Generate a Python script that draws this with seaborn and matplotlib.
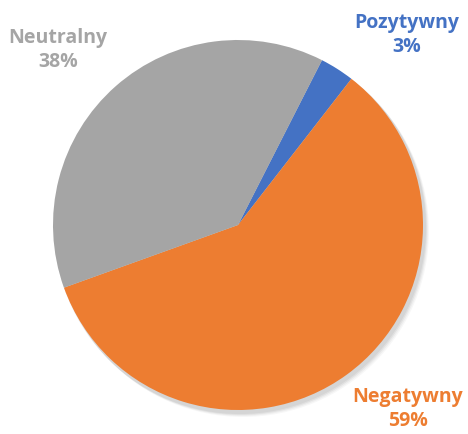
import matplotlib.pyplot as plt
import seaborn as sns

categories = ["Pozytywny", "Negatywny", "Neutralny"]
shares = [3, 59, 38]
colors = ["#4472C4", "#ED7D31", "#A5A5A5"]
text_colors = ["#4472C4", "#ED7D31", "#A5A5A5"]

sns.set_theme(style="white")
plt.rcParams['font.family'] = ['Open Sans', 'DejaVu Sans']

fig = plt.figure(figsize=(4.68, 4.35), dpi=100)
ax = fig.add_axes([0, 0, 1, 1])

cx, cy, r = 238, 435 - 226, 185

# soft shadow under the pie
for i, a in enumerate([0.05, 0.05, 0.04, 0.03]):
    shadow = plt.Circle((cx + 2 + i, cy - 3 - i), r + 1, color="black", alpha=a, lw=0, zorder=0)
    ax.add_patch(shadow)

ax.pie(shares, colors=colors, startangle=63, counterclock=False,
       center=(cx, cy), radius=r, frame=True,
       wedgeprops=dict(linewidth=0), normalize=True)
ax.set_xlim(0, 468)
ax.set_ylim(0, 435)
ax.set_aspect('equal')
ax.axis('off')

label_pos = [(407, 435 - 35), (408, 435 - 409), (58, 435 - 50)]
for cat, val, col, (x, y) in zip(categories, shares, text_colors, label_pos):
    ax.text(x, y, f"{cat}\n{val}%", color=col, fontsize=14, fontweight='bold',
            ha='center', va='center', linespacing=1.3)

fig.savefig("out.png", dpi=100)
